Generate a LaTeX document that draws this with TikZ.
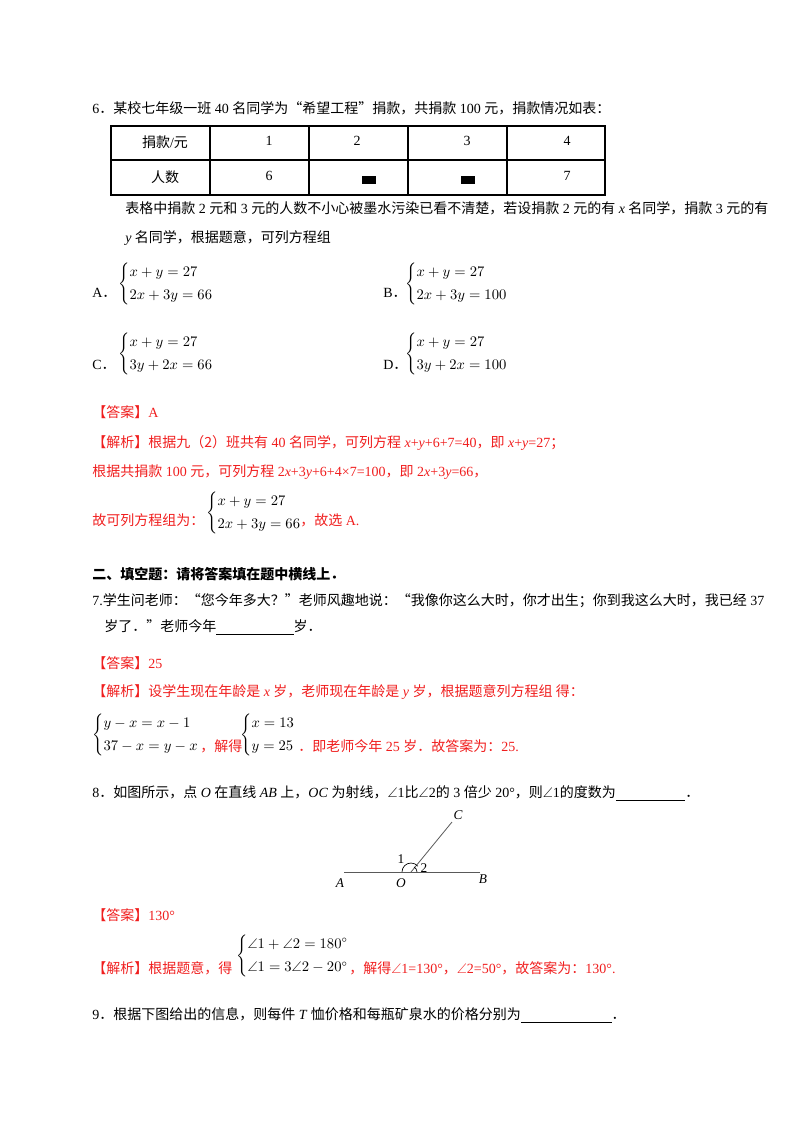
\documentclass[tikz,border=0pt]{standalone}
\usepackage{fontspec}
\usepackage{amsmath,amssymb}
\usetikzlibrary{calc}
\setmainfont{Liberation Serif}
\newfontfamily\cjk{Noto Sans CJK SC}
\definecolor{ans}{RGB}{240,30,30}
\newcommand{\zh}[1]{{\cjk #1}}
\newcommand{\ang}{$\angle$}
\begin{document}
\begin{tikzpicture}[x=0.75pt,y=-0.75pt,
  txt/.style={anchor=west,inner sep=0pt,font=\fontsize{10.5}{12}\selectfont},
  red/.style={txt,text=ans},
  cell/.style={font=\fontsize{10.5}{12}\selectfont},
  lab/.style={font=\itshape\fontsize{10}{12}\selectfont,inner sep=1pt}]
\useasboundingbox (0,0) rectangle (800,1132);
\node[txt] (q6) at (92,108) {6\zh{．某校七年级一班} 40 \zh{名同学为“希望工程”捐款，共捐款} 100 \zh{元，捐款情况如表：}};
% table
\draw[line width=0.8pt] (111,126) rectangle (605,195);
\draw[line width=0.8pt] (111,160) -- (605,160);
\foreach \x in {210,309,408,507} \draw[line width=0.8pt] (\x,126) -- (\x,195);
\node[cell] (h0) at (165,142) {\zh{捐款}/\zh{元}};
\node[cell] (h1) at (269,141) {1};
\node[cell] (h2) at (357,141) {2};
\node[cell] (h3) at (467,141) {3};
\node[cell] (h4) at (567,141) {4};
\node[cell] (r0) at (165,177) {\zh{人数}};
\node[cell] (r1) at (269,176) {6};
\fill (362,176) rectangle (376,184);
\fill (461,176) rectangle (475,184);
\node[cell] (r4) at (567,176) {7};
\node[txt] (l2) at (125,208) {\zh{表格中捐款} 2 \zh{元和} 3 \zh{元的人数不小心被墨水污染已看不清楚，若设捐款} 2 \zh{元的有} \textit{x} \zh{名同学，捐款} 3 \zh{元的有}};
\node[txt] (l3) at (125,238) {\textit{y} \zh{名同学，根据题意，可列方程组}};
\node[txt] (oa) at (92,293) {A\zh{．}};
\node[txt] (ea) at (118,284) {$\begin{cases}x+y=27\\[3pt]2x+3y=66\end{cases}$};
\node[txt] (ob) at (383,293) {B\zh{．}};
\node[txt] (eb) at (405,284) {$\begin{cases}x+y=27\\[3pt]2x+3y=100\end{cases}$};
\node[txt] (oc) at (92,365) {C\zh{．}};
\node[txt] (ec) at (118,354) {$\begin{cases}x+y=27\\[3pt]3y+2x=66\end{cases}$};
\node[txt] (od) at (383,365) {D\zh{．}};
\node[txt] (ed) at (405,354) {$\begin{cases}x+y=27\\[3pt]3y+2x=100\end{cases}$};
\node[red] (a6) at (92,412) {\zh{【答案】}A};
\node[red] (j6) at (92,443) {\zh{【解析】根据九（2）班共有} 40 \zh{名同学，可列方程} \textit{x}+\textit{y}+6+7=40\zh{，即} \textit{x}+\textit{y}=27\zh{；}};
\node[red] (j6b) at (92,472) {\zh{根据共捐款} 100 \zh{元，可列方程} 2\textit{x}+3\textit{y}+6+4×7=100\zh{，即} 2\textit{x}+3\textit{y}=66\zh{，}};
\node[red] (j6c) at (92,520) {\zh{故可列方程组为：}};
\node[txt] (e6) at (206,513) {$\begin{cases}x+y=27\\[3pt]2x+3y=66\end{cases}$};
\node[red] (j6d) at (300,520) {\zh{，故选} A.};
\node[txt,font=\fontsize{10.5}{12}\selectfont\bfseries] (s2) at (92,574) {\zh{二、填空题：请将答案填在题中横线上．}};
\node[txt] (q7) at (92,601) {7.\zh{学生问老师：“您今年多大？”老师风趣地说：“我像你这么大时，你才出生；你到我这么大时，我已经} 37};
\node[txt] (q7b) at (104,627) {\zh{岁了．”老师今年}\rule[-2pt]{58pt}{0.5pt}\zh{岁．}};
\node[red] (a7) at (92,663) {\zh{【答案】}25};
\node[red] (j7) at (92,692) {\zh{【解析】设学生现在年龄是} \textit{x} \zh{岁，老师现在年龄是} \textit{y} \zh{岁，根据题意列方程组 得：}};
\node[txt] (e7) at (92,735) {$\begin{cases}y-x=x-1\\[3pt]37-x=y-x\end{cases}$};
\node[red] (j7b) at (200,746) {\zh{，解得}};
\node[txt] (e7b) at (240,735) {$\begin{cases}x=13\\[3pt]y=25\end{cases}$};
\node[red] (j7c) at (298,746) {\zh{．即老师今年} 25 \zh{岁．故答案为：}25.};
\node[txt] (q8) at (92,793) {8\zh{．如图所示，点} \textit{O} \zh{在直线} \textit{AB} \zh{上，}\textit{OC} \zh{为射线，}\ang1\zh{比}\ang2\zh{的} 3 \zh{倍少} 20°\zh{，则}\ang1\zh{的度数为}\rule[-2pt]{52pt}{0.5pt}\zh{．}};
% figure
\coordinate (A) at (344,872);
\coordinate (B) at (480,872);
\coordinate (O) at (411,872);
\coordinate (C) at (452,822);
\draw[line width=0.6pt,gray!70!black] (A) -- (B);
\draw[line width=0.6pt,gray!70!black] (O) -- (C);
\draw[line width=0.5pt] ($(O)+(-9,0)$) arc[start angle=180,end angle=320,radius=9];
\draw[line width=0.5pt] ($(O)+(6,0)$) arc[start angle=0,end angle=-60,radius=6];
\node[lab] (la) at (340,883) {A};
\node[lab] (lb) at (483,879) {B};
\node[lab] (lo) at (401,883) {O};
\node[lab] (lc) at (458,815) {C};
\node[font=\fontsize{10}{12}\selectfont,inner sep=1pt] (l1) at (401,859) {1};
\node[font=\fontsize{10}{12}\selectfont,inner sep=1pt] (l2n) at (424,868) {2};
\node[red] (a8) at (92,915) {\zh{【答案】}130°};
\node[txt] (e8) at (236,956) {$\begin{cases}\angle1+\angle2=180^\circ\\[3pt]\angle1=3\angle2-20^\circ\end{cases}$};
\node[red] (j8) at (92,968) {\zh{【解析】根据题意，得}};
\node[red] (j8b) at (349,968) {\zh{，解得}\ang1=130°\zh{，}\ang2=50°\zh{，故答案为：}130°.};
\node[txt] (q9) at (92,1015) {9\zh{．根据下图给出的信息，则每件} \textit{T} \zh{恤价格和每瓶矿泉水的价格分别为}\rule[-2pt]{68pt}{0.5pt}\zh{．}};
\end{tikzpicture}
\end{document}
